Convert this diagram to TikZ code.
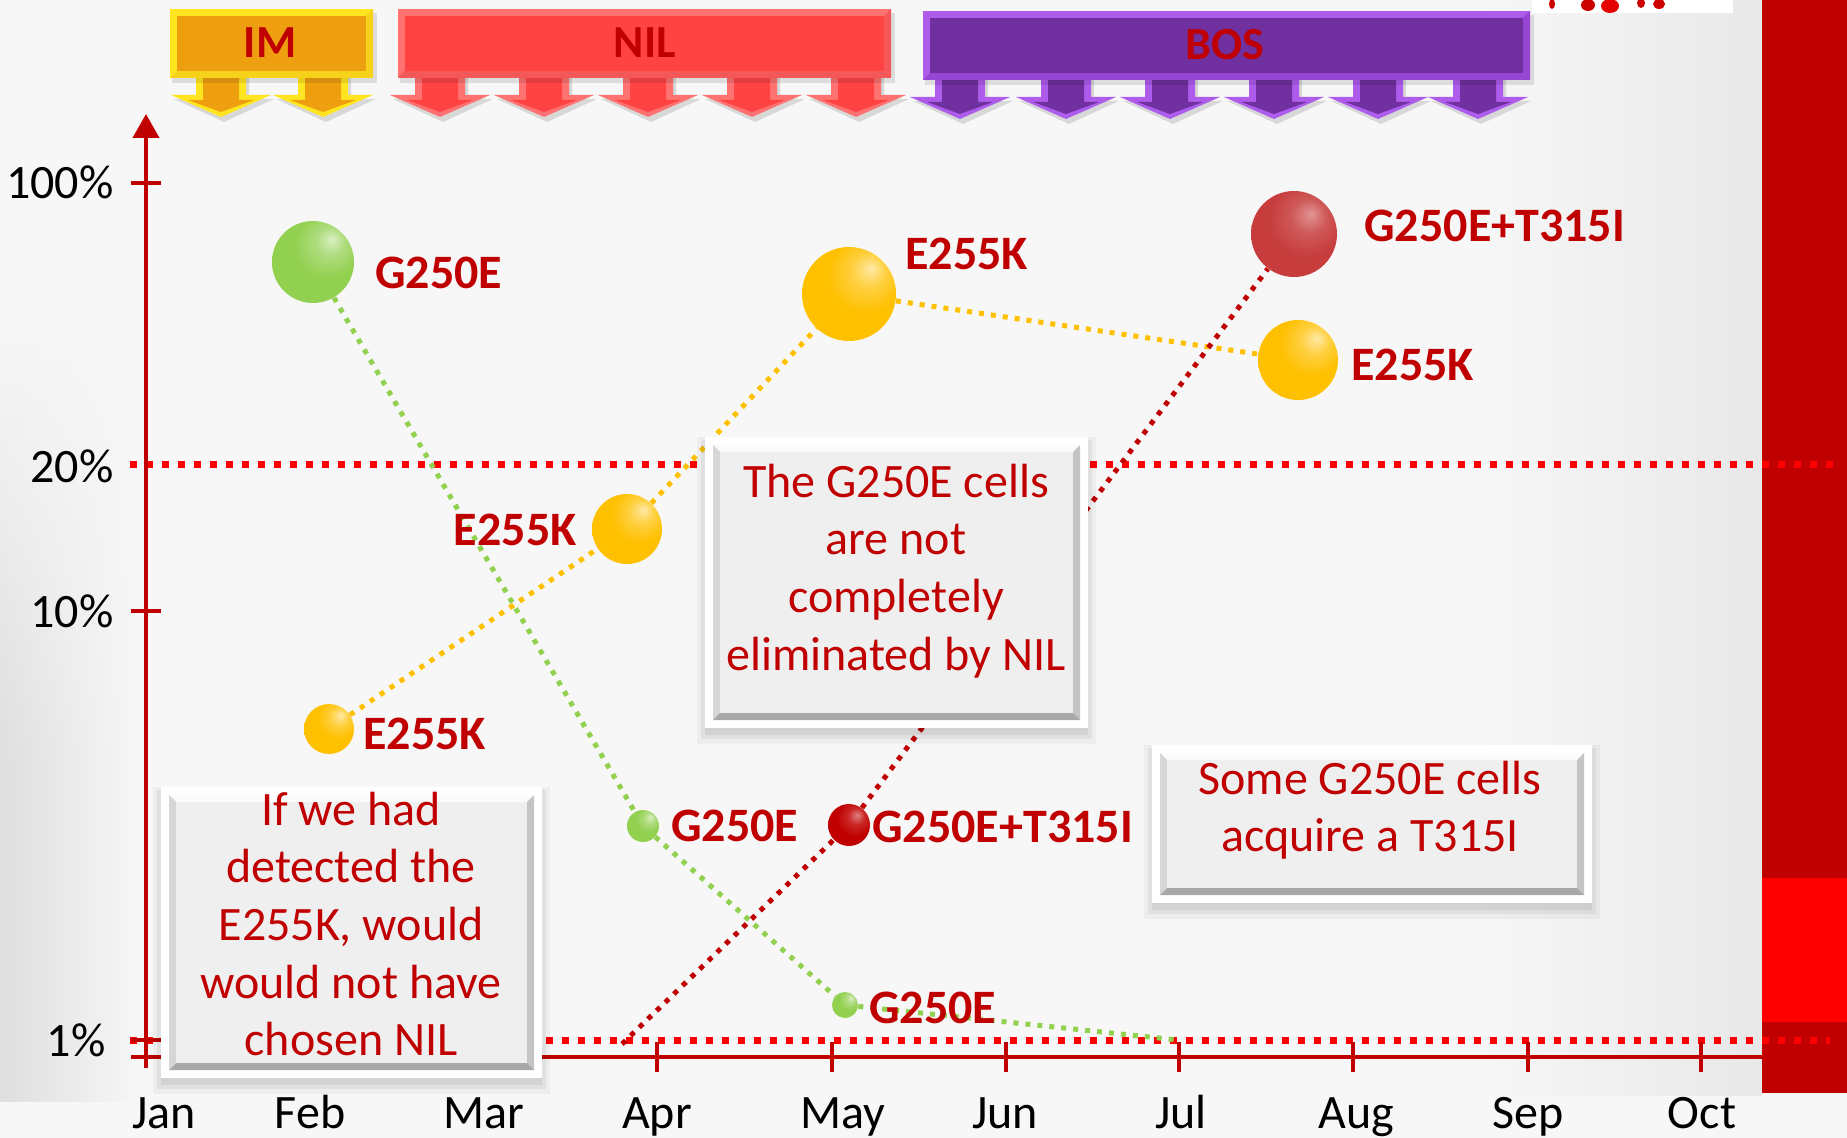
\documentclass[tikz,border=0pt]{standalone}
\usepackage{fontspec}
\setmainfont{Carlito}
\usetikzlibrary{arrows.meta}
\definecolor{dred}{HTML}{C00000}
\definecolor{bred}{HTML}{FF0000}
\definecolor{bgc}{HTML}{F7F7F7}
\definecolor{gb}{HTML}{92D050}
\definecolor{yb}{HTML}{FFC000}
\definecolor{rb}{HTML}{C00000}
\definecolor{rbb}{HTML}{C73C3C}
\definecolor{imface}{HTML}{EE9F10}
\definecolor{imbev}{HTML}{FFE51F}
\definecolor{imbevd}{HTML}{F7D21A}
\definecolor{nilface}{HTML}{FF4343}
\definecolor{nilbev}{HTML}{FF7272}
\definecolor{nilbevd}{HTML}{F45858}
\definecolor{bosface}{HTML}{7030A0}
\definecolor{bosbev}{HTML}{AE5CEB}
\definecolor{bosbevd}{HTML}{9646D2}
\definecolor{bvtop}{HTML}{FBFBFB}
\definecolor{bvleft}{HTML}{D6D6D6}
\definecolor{bvright}{HTML}{C4C4C4}
\definecolor{bvbot}{HTML}{A8A8A8}
\definecolor{bface}{HTML}{EFEFEF}

\pgfdeclareradialshading{gshade}{\pgfpoint{12bp}{14bp}}{color(0bp)=(gb!35!white); color(9bp)=(gb!75!white); color(20bp)=(gb); color(48bp)=(gb); color(72bp)=(gb!82!black)}
\pgfdeclareradialshading{yshade}{\pgfpoint{12bp}{14bp}}{color(0bp)=(yb!35!white); color(9bp)=(yb!75!white); color(20bp)=(yb); color(48bp)=(yb); color(72bp)=(yb!85!black)}
\pgfdeclareradialshading{rshade}{\pgfpoint{10bp}{12bp}}{color(0bp)=(rbb!55!white); color(10bp)=(rbb!85!white); color(22bp)=(rbb); color(48bp)=(rbb); color(72bp)=(rbb!80!black)}
\pgfdeclareradialshading{rsshade}{\pgfpoint{10bp}{12bp}}{color(0bp)=(rb!50!white); color(10bp)=(rb!85!white); color(22bp)=(rb); color(48bp)=(rb); color(72bp)=(rb!80!black)}

\pgfdeclarelayer{back}
\pgfdeclarelayer{mid}
\pgfsetlayers{back,mid,main}

\tikzset{
  lab/.style={font=\fontsize{24}{28.8}\selectfont\bfseries, text=dred, inner sep=0pt, anchor=west},
  axlab/.style={font=\fontsize{24}{28.8}\selectfont, text=black, inner sep=0pt},
  boxtext/.style={font=\fontsize{24}{28.8}\selectfont, text=dred, align=center, inner sep=0pt},
  bantext/.style={font=\fontsize{23}{27}\selectfont\bfseries, text=dred, inner sep=0pt},
  bubble/.style={circle, inner sep=0pt, minimum size=#1, shade},
  gline/.style={draw=gb, line width=2.5pt, dash pattern=on 2.5pt off 3.5pt},
  yline/.style={draw=yb, line width=2.5pt, dash pattern=on 2.5pt off 3.5pt},
  rline/.style={draw=dred, line width=2.5pt, dash pattern=on 2.5pt off 3.5pt},
  hline/.style={draw=bred, line width=3.5pt, dash pattern=on 3.5pt off 4.5pt},
  axisline/.style={draw=dred, line width=2pt},
}

% bevelled call-out box: x1 y1 x2 y2
\newcommand\bevelbox[4]{%
  \fill[black,opacity=0.04] (#1-8,#2) rectangle (#3+8,#4+16);
  \fill[black,opacity=0.05] (#1-4,#2+3) rectangle (#3+4,#4+11);
  \fill[black,opacity=0.06] (#1,#2+5) rectangle (#3,#4+7);
  \fill[white] (#1,#2) rectangle (#3,#4);
  \fill[bvtop] (#1+8,#2+8) -- (#3-8,#2+8) -- (#3-15,#2+15) -- (#1+15,#2+15) -- cycle;
  \fill[bvleft] (#1+8,#2+8) -- (#1+15,#2+15) -- (#1+15,#4-15) -- (#1+8,#4-8) -- cycle;
  \fill[bvright] (#3-8,#2+8) -- (#3-8,#4-8) -- (#3-15,#4-15) -- (#3-15,#2+15) -- cycle;
  \fill[bvbot] (#1+8,#4-8) -- (#3-8,#4-8) -- (#3-15,#4-15) -- (#1+15,#4-15) -- cycle;
  \fill[bface] (#1+15,#2+15) rectangle (#3-15,#4-15);
}
% banner box: x1 y1 x2 y2 light dark face
\newcommand\banbox[7]{%
  \fill[black,opacity=0.10] (#1+2,#2+4) rectangle (#3+4,#4+5);
  \fill[#5] (#1,#2) rectangle (#3,#4);
  \fill[#6] (#1,#4) -- (#3,#4) -- (#3,#2) -- (#3-7,#2+7) -- (#3-7,#4-7) -- (#1+7,#4-7) -- cycle;
  \fill[#7] (#1+7,#2+7) rectangle (#3-7,#4-7);
}
% downward banner arrow: cx ytop bevel face
\newcommand\darrow[4]{%
  \fill[black,opacity=0.12] (#1-22,#2) -- (#1-22,#2+21) -- (#1-47,#2+21) -- (#1+3,#2+44) -- (#1+53,#2+21) -- (#1+28,#2+21) -- (#1+28,#2) -- cycle;
  \fill[#3] (#1-25,#2) -- (#1-25,#2+17) -- (#1-50,#2+17) -- (#1,#2+39) -- (#1+50,#2+17) -- (#1+25,#2+17) -- (#1+25,#2) -- cycle;
  \fill[#4] (#1-18,#2) -- (#1-18,#2+22) -- (#1-33,#2+22) -- (#1,#2+34) -- (#1+33,#2+22) -- (#1+18,#2+22) -- (#1+18,#2) -- cycle;
}

\begin{document}
\begin{tikzpicture}[x=0.5pt,y=-0.5pt]
\useasboundingbox (0,0) rectangle (1847,1138);

\begin{pgfonlayer}{back}
  % background
  \fill[bgc] (0,0) rectangle (1847,1138);
  \foreach \ty [evaluate=\ty as \kk using {min(10,max(0,(\ty-300)/45))}] in {300,320,...,1080}
    {\fill[left color=black!\kk!bgc, right color=bgc] (0,\ty) rectangle (140,\ty+21);}
  \fill[left color=bgc, right color=black!9] (1480,0) rectangle (1762,1095);
  % right red bar
  \fill[dred] (1762,0) rectangle (1847,1093);
  \fill[bred] (1762,878) rectangle (1847,1022);
  % white strip at top right with a cut-off picture
  \fill[white] (1532,0) rectangle (1733,13);
  \fill[dred!80!bred] (1552,4) ellipse [x radius=3, y radius=5];
  \fill[dred!80!bred] (1588,5) ellipse [x radius=7, y radius=6];
  \fill[bred!90!black] (1610,6) ellipse [x radius=9, y radius=7];
  \fill[dred!80!bred] (1641,3) ellipse [x radius=4, y radius=5];
  \fill[dred!80!bred] (1659,4) ellipse [x radius=6, y radius=5];
  % horizontal reference lines
  \draw[hline] (130,465) -- (1835,465);
  \draw[hline] (130,1040) -- (1830,1040);
  % axes
  \draw[axisline] (131,1057) -- (1762,1057);
  \draw[axisline, -{Triangle[width=13pt,length=12pt]}] (146,1068) -- (146,114);
  \foreach \yy in {183,611,1040} {\draw[axisline] (131,\yy) -- (161,\yy);}
  \foreach \xx in {657,832,1006,1179,1353,1528,1701} {\draw[axisline] (\xx,1042) -- (\xx,1072);}
  % banners: arrows then boxes
  \foreach \cx in {221,323} {\darrow{\cx}{78}{imbev}{imface}}
  \foreach \cx in {440,544,648,752,856} {\darrow{\cx}{78}{nilbev}{nilface}}
  \foreach \cx in {960,1066,1170,1274,1378,1478} {\darrow{\cx}{80}{bosbev}{bosface}}
  \banbox{170}{9}{373}{78}{imbev}{imbevd}{imface}
  \banbox{398}{9}{891}{78}{nilbev}{nilbevd}{nilface}
  \banbox{923}{11}{1530}{80}{bosbev}{bosbevd}{bosface}
\end{pgfonlayer}

% banner texts
\node[bantext] (im) at (270,43) {IM};
\node[bantext] (nil) at (645,43) {NIL};
\node[bantext] (bos) at (1225,45) {BOS};

% axis labels
\node[axlab, anchor=east] (p100) at (114,182) {100\%};
\node[axlab, anchor=east] (p20) at (114,466) {20\%};
\node[axlab, anchor=east] (p10) at (114,611) {10\%};
\node[axlab, anchor=east] (p1) at (106,1040) {1\%};
\foreach \mx/\mn in {164/Jan,310/Feb,484/Mar,657/Apr,843/May,1005/Jun,1181/Jul,1356/Aug,1528/Sep,1702/Oct} {\node[axlab, anchor=base] (m\mn) at (\mx,1128) {\mn};}

% data points
\node[bubble=41pt, shading=gshade] (g1) at (313,262) {};
\node[bubble=16pt, shading=gshade] (g2) at (643,826) {};
\node[bubble=13pt, shading=gshade] (g3) at (845,1005) {};
\node[bubble=25pt, shading=yshade] (e1) at (329,729) {};
\node[bubble=35pt, shading=yshade] (e2) at (627,529) {};
\node[bubble=47pt, shading=yshade] (e3) at (849,294) {};
\node[bubble=40pt, shading=yshade] (e4) at (1298,360) {};
\node[bubble=21pt, shading=rsshade] (r1) at (849,825) {};
\node[bubble=43pt, shading=rshade] (r2) at (1294,234) {};
\coordinate (gend) at (1178,1040);
\coordinate (rstart) at (622,1044);

% connectors
\begin{pgfonlayer}{mid}
  \draw[gline] (g1) -- (g2);
  \draw[gline] (g2) -- (g3);
  \draw[gline] (g3) -- (gend);
  \draw[yline] (e1) -- (e2);
  \draw[yline] (e2) -- (e3);
  \draw[yline] (e3) -- (e4);
  \draw[rline] (rstart) -- (r1);
  \draw[rline] (r1) -- (r2);
\end{pgfonlayer}

% point labels
\node[lab] (lg1) at (375,273) {G250E};
\node[lab] (lg2) at (671,826) {G250E};
\node[lab] (lg3) at (869,1008) {G250E};
\node[lab, anchor=east] (le2) at (577,530) {E255K};
\node[lab] (le1) at (363,734) {E255K};
\node[lab] (le3) at (905,254) {E255K};
\node[lab] (le4) at (1351,365) {E255K};
\node[lab] (lr1) at (872,827) {G250E+T315I};
\node[lab] (lr2) at (1364,226) {G250E+T315I};

% call-out boxes
\bevelbox{705}{437}{1088}{728}
\bevelbox{161}{787}{542}{1078}
\bevelbox{1152}{745}{1592}{903}
\node[boxtext] (t1) at (896,571) {The G250E cells\\are not\\completely\\eliminated by NIL};
\node[boxtext] (t2) at (351,924) {If we had\\detected the\\E255K, would\\would not have\\chosen NIL};
\node[boxtext] (t3) at (1370,810) {Some G250E cells\\acquire a T315I};
\end{tikzpicture}
\end{document}
